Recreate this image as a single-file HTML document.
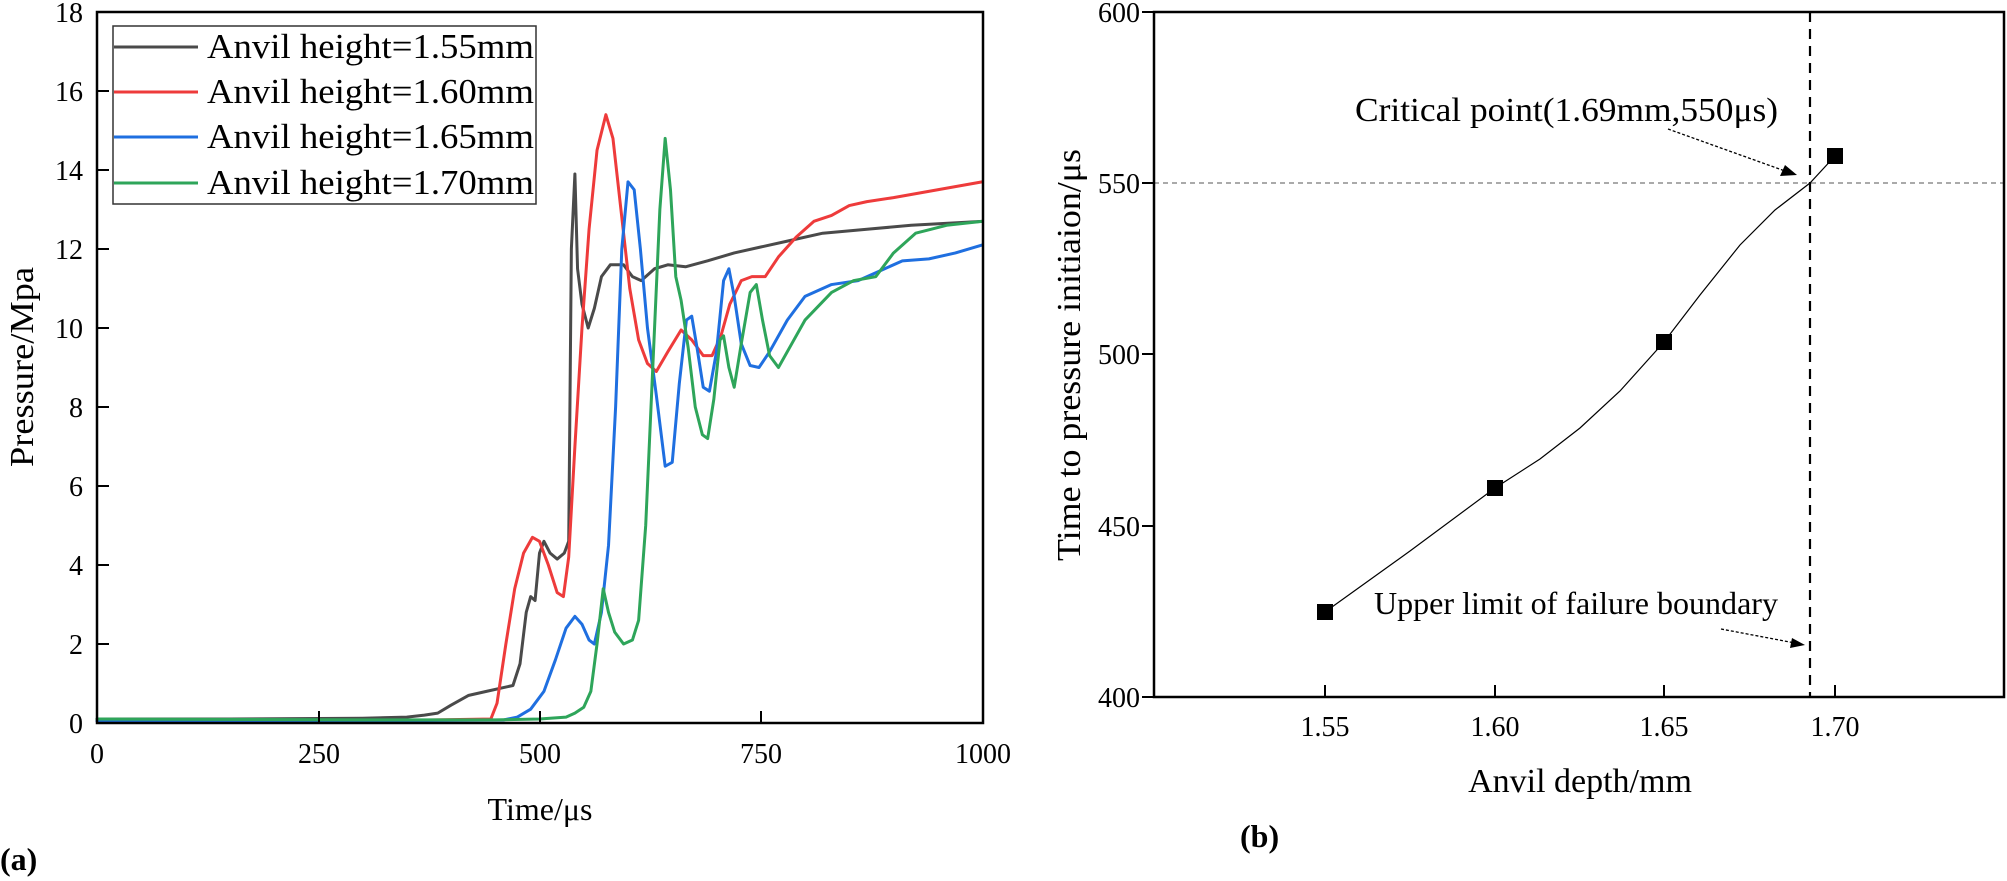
<!DOCTYPE html>
<html><head><meta charset="utf-8"><style>
html,body{margin:0;padding:0;background:#fff;}
svg{display:block;font-family:"Liberation Serif",serif;}
</style></head><body>
<svg width="2007" height="881" viewBox="0 0 2007 881" xmlns="http://www.w3.org/2000/svg">
<rect width="2007" height="881" fill="#fff"/>
<!-- LEFT CHART -->
<g fill="none" stroke-width="3" stroke-linejoin="round" stroke-linecap="round">
<g transform="translate(97,723) scale(0.885,-39.5)">
<polyline vector-effect="non-scaling-stroke" stroke="#4a4a4a" points="0,0.1 150,0.1 300,0.12 350,0.15 370,0.2 385,0.25 400,0.45 420,0.7 440,0.8 460,0.9 470,0.95 478,1.5 485,2.8 490,3.2 495,3.1 500,4.3 505,4.6 512,4.3 520,4.15 528,4.3 533,4.6 536,12 540,13.9 543,11.5 548,10.6 555,10 562,10.5 570,11.3 580,11.6 595,11.6 605,11.3 615,11.2 630,11.5 645,11.6 665,11.55 690,11.7 720,11.9 750,12.05 780,12.2 820,12.4 870,12.5 920,12.6 1000,12.7"/>
<polyline vector-effect="non-scaling-stroke" stroke="#ee3b3b" points="0,0.05 300,0.05 445,0.1 452,0.5 462,2 472,3.4 482,4.3 492,4.7 500,4.6 510,4.0 520,3.3 527,3.2 533,4.2 540,7 548,10 556,12.5 565,14.5 575,15.4 583,14.8 592,13 602,11 612,9.7 622,9.1 632,8.9 645,9.4 660,9.95 672,9.7 685,9.3 695,9.3 705,9.8 715,10.6 728,11.2 740,11.3 755,11.3 770,11.8 790,12.3 810,12.7 830,12.85 850,13.1 870,13.2 900,13.3 950,13.5 1000,13.7"/>
<polyline vector-effect="non-scaling-stroke" stroke="#1f6fe0" points="0,0.05 300,0.05 460,0.08 475,0.15 490,0.35 505,0.8 518,1.6 530,2.4 540,2.7 548,2.5 556,2.1 562,2.0 570,2.8 578,4.5 586,8 593,12 600,13.7 607,13.5 614,12 622,10 632,8.3 642,6.5 650,6.6 658,8.6 666,10.2 672,10.3 678,9.5 685,8.5 692,8.4 700,9.4 708,11.2 714,11.5 720,10.8 728,9.6 738,9.05 748,9.0 760,9.4 780,10.2 800,10.8 830,11.1 860,11.2 880,11.4 910,11.7 940,11.75 970,11.9 1000,12.1"/>
<polyline vector-effect="non-scaling-stroke" stroke="#2ea55a" points="0,0.1 300,0.08 450,0.08 500,0.1 530,0.15 540,0.25 550,0.4 558,0.8 565,2 572,3.4 578,2.8 585,2.3 595,2.0 605,2.1 612,2.6 620,5 628,9 636,13 642,14.8 648,13.5 654,11.3 660,10.7 668,9.5 676,8.0 684,7.3 690,7.2 697,8.2 704,9.7 708,9.8 714,9.0 720,8.5 728,9.6 738,10.9 745,11.1 752,10.2 760,9.3 770,9.0 785,9.6 800,10.2 830,10.9 855,11.2 880,11.3 900,11.9 925,12.4 960,12.6 1000,12.7"/>
</g>
</g>
<rect x="97" y="12" width="886" height="711" fill="none" stroke="#000" stroke-width="2.5"/>
<g stroke="#000" stroke-width="2">
<line x1="97" y1="91" x2="109" y2="91"/><line x1="97" y1="170" x2="109" y2="170"/><line x1="97" y1="249" x2="109" y2="249"/><line x1="97" y1="328" x2="109" y2="328"/><line x1="97" y1="407" x2="109" y2="407"/><line x1="97" y1="486" x2="109" y2="486"/><line x1="97" y1="565" x2="109" y2="565"/><line x1="97" y1="644" x2="109" y2="644"/>
<line x1="319" y1="723" x2="319" y2="711"/><line x1="540" y1="723" x2="540" y2="711"/><line x1="761" y1="723" x2="761" y2="711"/>
</g>
<g font-size="28" text-anchor="end">
<text x="83" y="22">18</text><text x="83" y="101">16</text><text x="83" y="180">14</text><text x="83" y="259">12</text><text x="83" y="338">10</text><text x="83" y="417">8</text><text x="83" y="496">6</text><text x="83" y="575">4</text><text x="83" y="654">2</text><text x="83" y="733">0</text>
</g>
<g font-size="28" text-anchor="middle">
<text x="97" y="763">0</text><text x="319" y="763">250</text><text x="540" y="763">500</text><text x="761" y="763">750</text><text x="983" y="763">1000</text>
</g>
<text x="540" y="820" font-size="32" text-anchor="middle">Time/μs</text>
<text transform="translate(33,367) rotate(-90)" font-size="34" text-anchor="middle" textLength="200" lengthAdjust="spacingAndGlyphs">Pressure/Mpa</text>
<text x="0" y="870" font-size="32" font-weight="bold">(a)</text>
<!-- legend -->
<rect x="113" y="26" width="423" height="178" fill="#fff" stroke="#333" stroke-width="1.5"/>
<g stroke-width="3">
<line x1="114" y1="47" x2="198" y2="47" stroke="#4a4a4a"/>
<line x1="114" y1="92" x2="198" y2="92" stroke="#ee3b3b"/>
<line x1="114" y1="137" x2="198" y2="137" stroke="#1f6fe0"/>
<line x1="114" y1="183" x2="198" y2="183" stroke="#2ea55a"/>
</g>
<g font-size="35">
<text x="207" y="58" textLength="327" lengthAdjust="spacingAndGlyphs">Anvil height=1.55mm</text>
<text x="207" y="103" textLength="327" lengthAdjust="spacingAndGlyphs">Anvil height=1.60mm</text>
<text x="207" y="148" textLength="327" lengthAdjust="spacingAndGlyphs">Anvil height=1.65mm</text>
<text x="207" y="194" textLength="327" lengthAdjust="spacingAndGlyphs">Anvil height=1.70mm</text>
</g>
<!-- RIGHT CHART -->
<line x1="1154" y1="183" x2="2004" y2="183" stroke="#777" stroke-width="1.3" stroke-dasharray="5,4"/>
<line x1="1810" y1="12" x2="1810" y2="697" stroke="#000" stroke-width="2.2" stroke-dasharray="10,7"/>
<polyline fill="none" stroke="#000" stroke-width="1.2" points="1325,612 1410,551 1495,488 1540,459 1580,428 1620,391 1664,342 1700,295 1740,245 1775,210 1810,183 1835,156"/>
<g fill="#000">
<rect x="1317" y="604" width="16" height="16"/><rect x="1487" y="480" width="16" height="16"/><rect x="1656" y="334" width="16" height="16"/><rect x="1827" y="148" width="16" height="16"/>
</g>
<rect x="1154" y="12" width="850" height="685" fill="none" stroke="#000" stroke-width="2.5"/>
<g stroke="#000" stroke-width="2">
<line x1="1142" y1="12" x2="1154" y2="12"/><line x1="1142" y1="183" x2="1154" y2="183"/><line x1="1142" y1="354" x2="1154" y2="354"/><line x1="1142" y1="526" x2="1154" y2="526"/><line x1="1142" y1="697" x2="1154" y2="697"/>
<line x1="1325" y1="697" x2="1325" y2="685"/><line x1="1495" y1="697" x2="1495" y2="685"/><line x1="1664" y1="697" x2="1664" y2="685"/><line x1="1835" y1="697" x2="1835" y2="685"/>
</g>
<g font-size="28" text-anchor="end">
<text x="1140" y="22">600</text><text x="1140" y="193">550</text><text x="1140" y="364">500</text><text x="1140" y="536">450</text><text x="1140" y="707">400</text>
</g>
<g font-size="28" text-anchor="middle">
<text x="1325" y="736">1.55</text><text x="1495" y="736">1.60</text><text x="1664" y="736">1.65</text><text x="1835" y="736">1.70</text>
</g>
<text x="1580" y="792" font-size="34" text-anchor="middle">Anvil depth/mm</text>
<text transform="translate(1080,355) rotate(-90)" font-size="34" text-anchor="middle" textLength="412" lengthAdjust="spacingAndGlyphs">Time to pressure initiaion/μs</text>
<text x="1240" y="847" font-size="32" font-weight="bold">(b)</text>
<text x="1355" y="121" font-size="34" textLength="423" lengthAdjust="spacingAndGlyphs">Critical point(1.69mm,550μs)</text>
<text x="1374" y="614" font-size="32" textLength="404" lengthAdjust="spacingAndGlyphs">Upper limit of failure boundary</text>
<g stroke="#000" stroke-width="1.3" stroke-dasharray="3,2">
<line x1="1668" y1="129" x2="1785" y2="171"/>
<line x1="1721" y1="629" x2="1795" y2="643"/>
</g>
<polygon points="1797,175 1780,176 1785,165" fill="#000"/>
<polygon points="1805,645 1790,648 1792,638" fill="#000"/>
</svg>
</body></html>
